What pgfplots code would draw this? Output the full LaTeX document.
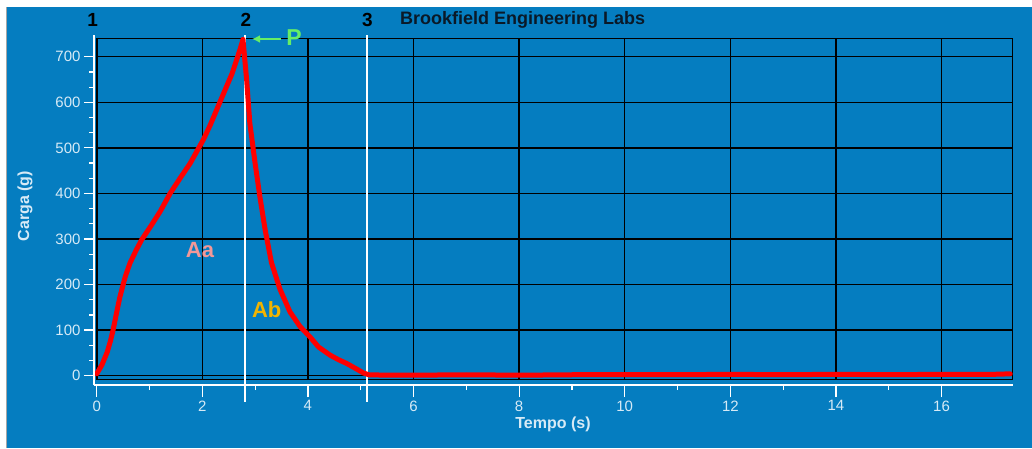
\documentclass[border=0pt]{standalone}
\usepackage{fontspec}
\setmainfont{Liberation Sans}
\usepackage{pgfplots}
\usepackage{pgfplotstable}
\pgfplotsset{compat=1.18}
\usetikzlibrary{arrows.meta}

\definecolor{bgblue}{RGB}{5,125,192}
\definecolor{pale}{RGB}{214,234,246}
\definecolor{titlecol}{RGB}{10,25,40}
\definecolor{pcol}{RGB}{102,238,102}
\definecolor{aacol}{RGB}{242,152,152}
\definecolor{abcol}{RGB}{242,180,0}

% carga (g) vs tempo (s)
\pgfplotstableread{
t     carga
0     4
0.10  24
0.20  52
0.26  76
0.31  100
0.38  140
0.44  173
0.54  217
0.63  247
0.75  276
0.85  298
1.04  331
1.20  360
1.39  400
1.60  437
1.77  466
2.02  518
2.15  550
2.27  583
2.46  635
2.56  662
2.65  693
2.72  718
2.77  738
2.84  649
2.90  554
3.00  466
3.09  393
3.19  320
3.31  248
3.47  190
3.66  140
3.85  108
4.04  85
4.20  63
4.42  45
4.58  35
4.73  27
4.90  16
5.05  6
5.15  2
5.5   1
6.0   1
7.0   2
8.0   1
9.0   2
10.0  2
11.0  2
12.0  3
13.0  2
14.0  3
15.0  2
16.0  3
17.0  3
17.3  4
}\carga

\begin{document}
\begin{tikzpicture}[x=1pt,y=1pt]
\useasboundingbox (0,0) rectangle (1032,448);
\fill[white] (0,0) rectangle (1032,448);
\fill[bgblue] (7,0) rectangle (1032,441);
\draw[gray!70, line width=1.6pt] (6.3,0) -- (6.3,441);

% plot area with grid
\begin{axis}[
  at={(96.7pt,68.7pt)}, anchor=south west,
  scale only axis, width=915.6pt, height=340.8pt,
  xmin=0, xmax=17.34, ymin=-8, ymax=740,
  xtick={0,2,...,16}, ytick={0,100,...,700},
  xticklabels={}, yticklabels={},
  major tick length=0pt,
  grid=major, grid style={black, line width=1.4pt},
  axis line style={black, line width=1.6pt},
  clip=false,
]
  \draw[white, line width=2pt] (axis cs:2.8,747) -- (axis cs:2.8,-58);
  \draw[white, line width=2pt] (axis cs:5.11,747) -- (axis cs:5.11,-58);
  \addplot[red, line width=5pt, line join=round, line cap=round] table[x=t, y=carga] {\carga};
\end{axis}

% white y axis
\begin{axis}[
  at={(94pt,68.7pt)}, anchor=south west,
  scale only axis, width=10pt, height=340.8pt,
  xmin=0, xmax=1, ymin=-8, ymax=740,
  axis y line*=left, axis x line=none,
  ytick={0,100,...,700}, minor y tick num=2,
  tick align=outside, major tick length=10pt, minor tick length=5pt,
  tick style={white, line width=1.2pt},
  axis line style={white, line width=1.6pt, shorten <=-6pt, shorten >=-3.5pt},
  /pgf/number format/assume math mode=true,
  yticklabel style={text=pale, font=\fontsize{15}{17}\selectfont},
]
\end{axis}

% white x axis
\begin{axis}[
  at={(96.7pt,63pt)}, anchor=south west,
  scale only axis, width=915.6pt, height=10pt,
  xmin=0, xmax=17.34, ymin=0, ymax=1,
  axis x line*=bottom, axis y line=none,
  xtick={0,2,...,16}, minor x tick num=1,
  tick align=outside, major tick length=12pt, minor tick length=5pt,
  tick style={white, line width=1.2pt},
  axis line style={white, line width=1.6pt, shorten <=-2.7pt, shorten >=-0.7pt},
  /pgf/number format/assume math mode=true,
  xticklabel style={text=pale, font=\fontsize{15}{17}\selectfont},
]
\end{axis}

% texts
\node[font=\bfseries\fontsize{19}{21}\selectfont, text=black] at (92.7,428) {1};
\node[font=\bfseries\fontsize{19}{21}\selectfont, text=black] at (246,428) {2};
\node[font=\bfseries\fontsize{19}{21}\selectfont, text=black] at (367.5,428) {3};
\node[font=\bfseries\fontsize{18}{20}\selectfont, text=titlecol, anchor=west, inner sep=0pt] at (400,428) {Brookfield Engineering Labs};
\draw[pcol, line width=2.4pt, -{Latex[length=8pt,width=8pt]}] (281,409) -- (252,409);
\node[font=\bfseries\fontsize{23}{25}\selectfont, text=pcol] at (294,410) {P};
\node[font=\bfseries\fontsize{22}{24}\selectfont, text=aacol] at (200,198) {Aa};
\node[font=\bfseries\fontsize{22}{24}\selectfont, text=abcol] at (266.7,138) {Ab};
\node[font=\bfseries\fontsize{16}{18}\selectfont, text=pale, rotate=90] at (25,242) {Carga (g)};
\node[font=\bfseries\fontsize{16}{18}\selectfont, text=pale] at (553,24) {Tempo (s)};
\end{tikzpicture}
\end{document}
